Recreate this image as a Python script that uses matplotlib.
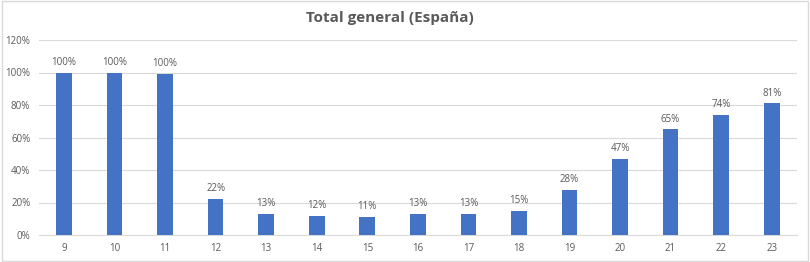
import matplotlib
matplotlib.use("Agg")
import matplotlib.pyplot as plt
from matplotlib.patches import Rectangle
from matplotlib.ticker import FuncFormatter

plt.rcParams['font.family'] = ['Open Sans', 'DejaVu Sans']

# datos
horas = ['9', '10', '11', '12', '13', '14', '15', '16', '17', '18', '19', '20', '21', '22', '23']
valores = [100, 100, 99, 22, 13, 12, 11, 13, 13, 15, 28, 47, 65, 74, 81]
etiquetas = ['100%', '100%', '100%', '22%', '13%', '12%', '11%', '13%', '13%', '15%',
             '28%', '47%', '65%', '74%', '81%']

gris = '#595959'
azul = '#4472C4'

fig = plt.figure(figsize=(8.1, 2.62), dpi=100)
ax = fig.add_axes([38.7 / 810, 27 / 262, (797 - 38.7) / 810, (235 - 40) / 262])

x = range(len(horas))
barras = ax.bar(x, valores, width=0.31, color=azul, zorder=3)
ax.bar_label(barras, labels=etiquetas, padding=3.5, fontsize=7, color=gris)

ax.set_xlim(-0.5, len(horas) - 0.5)
ax.set_ylim(0, 120)
ax.set_yticks(range(0, 121, 20))
ax.yaxis.set_major_formatter(FuncFormatter(lambda v, p: f'{v:.0f}%'))
ax.set_xticks(list(x))
ax.set_xticklabels(horas)
ax.grid(axis='y', color='#D9D9D9', linewidth=0.8, zorder=0)
for s in ax.spines.values():
    s.set_visible(False)
ax.spines['bottom'].set_visible(True)
ax.spines['bottom'].set_color('#D9D9D9')
ax.tick_params(length=0, labelsize=7, colors=gris, pad=6)

fig.text(390 / 810, 1 - 18 / 262, 'Total general (España)', ha='center', va='center',
         fontsize=11, fontweight='bold', color=gris)

# borde del gráfico
fig.patches.append(Rectangle((0.002, 0.004), 0.996, 0.992, transform=fig.transFigure,
                             fill=False, edgecolor='#D9D9D9', linewidth=1))

plt.savefig('out.png', dpi=100)
